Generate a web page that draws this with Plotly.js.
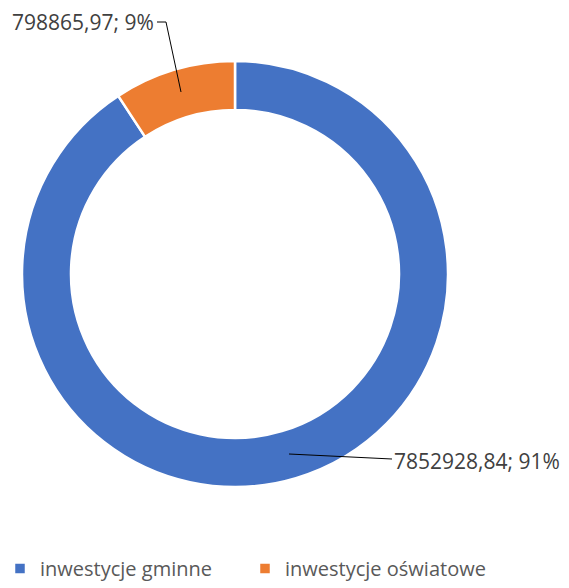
<!DOCTYPE html>
<html>
<head>
<meta charset="utf-8">
<script src="https://cdn.plot.ly/plotly-3.0.1.min.js"></script>
<style>
  html, body { margin: 0; padding: 0; background: #fff; }
  #plotArea { width: 569px; height: 588px; }
</style>
</head>
<body>
<div id="plotArea"></div>
<script>
var categories = ["inwestycje gminne", "inwestycje oświatowe"];
var values = [7852928.84, 798865.97];
var colors = ["#4472C4", "#ED7D31"];

var total = values[0] + values[1];
function labelText(i) {
    var v = values[i].toFixed(2).replace(".", ",");
    var p = Math.round(values[i] / total * 100);
    return v + "; " + p + "%";
}

var trace = {
    type: "pie",
    labels: categories,
    values: values,
    hole: 0.77,
    sort: false,
    direction: "clockwise",
    rotation: 0,
    textinfo: "none",
    hoverinfo: "label+value+percent",
    marker: {colors: colors, line: {color: "#ffffff", width: 2.5}},
    domain: {x: [22 / 569, 448 / 569], y: [1 - 487 / 588, 1 - 61 / 588]}
};

var font = "Open Sans, sans-serif";

var layout = {
    width: 569,
    height: 588,
    margin: {l: 0, r: 0, t: 0, b: 0},
    paper_bgcolor: "#ffffff",
    showlegend: true,
    legend: {
        orientation: "h",
        x: 0, xanchor: "left",
        y: 0, yanchor: "bottom",
        font: {family: font, size: 20, color: "#595959"},
        entrywidth: 200, entrywidthmode: "pixels"
    },
    annotations: [
        {
            text: labelText(1), showarrow: false,
            xref: "paper", yref: "paper",
            x: 156 / 569, y: 1 - 22 / 588, xanchor: "right", yanchor: "middle",
            font: {family: font, size: 21, color: "#404040"}
        },
        {
            text: labelText(0), showarrow: false,
            xref: "paper", yref: "paper",
            x: 392 / 569, y: 1 - 461 / 588, xanchor: "left", yanchor: "middle",
            font: {family: font, size: 21, color: "#404040"}
        }
    ],
    // leader lines
    shapes: [
        {type: "path", xref: "paper", yref: "paper",
         path: "M " + 157/569 + "," + (1 - 22/588) + " L " + 166/569 + "," + (1 - 22/588) + " L " + 181/569 + "," + (1 - 92/588),
         line: {color: "#000000", width: 1}},
        {type: "path", xref: "paper", yref: "paper",
         path: "M " + 289/569 + "," + (1 - 454/588) + " L " + 392/569 + "," + (1 - 459/588),
         line: {color: "#000000", width: 1}}
    ]
};

Plotly.newPlot("plotArea", [trace], layout, {displayModeBar: false});
</script>
</body>
</html>
